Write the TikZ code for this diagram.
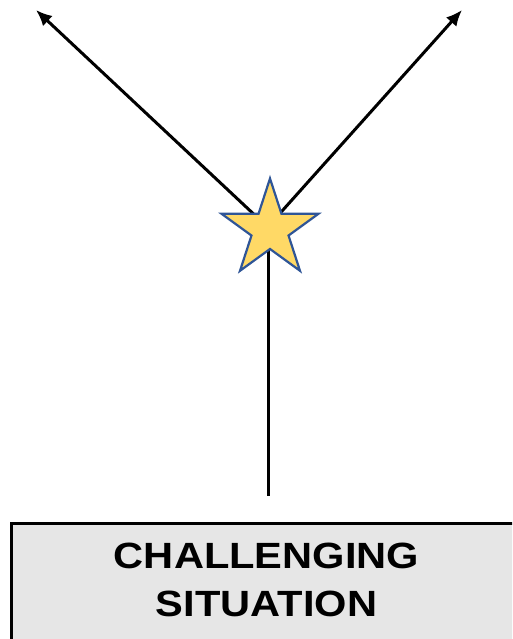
\documentclass[tikz,border=0pt]{standalone}
\usepackage{fontspec}
\setmainfont{Liberation Sans}
\usetikzlibrary{shapes.geometric,arrows.meta}
\definecolor{starfill}{HTML}{FFD966}
\definecolor{starline}{HTML}{2F5597}
\definecolor{boxfill}{HTML}{E6E6E6}
\tikzset{
  conn/.style={draw=black, line width=3pt},
  arrowconn/.style={conn, -{Latex[length=16pt,width=14pt]}},
  starshape/.style={star, star points=5, star point ratio=2.618, minimum size=102pt, inner sep=0pt,
    draw=starline, fill=starfill, line width=2.2pt},
  boxshape/.style={draw=black, fill=boxfill, line width=3pt, minimum width=515pt, minimum height=140pt, anchor=north west, inner sep=0pt},
  lbl/.style={anchor=base, inner sep=0pt, font=\fontsize{36.5}{40}\selectfont\bfseries}
}
\begin{document}
\begin{tikzpicture}[x=1pt,y=-1pt]
\useasboundingbox (0,0) rectangle (512,639);
\clip (0,0) rectangle (512,639);
\fill[white] (0,0) rectangle (512,639);
\coordinate (tl) at (36,10);
\coordinate (tr) at (462,10);
\coordinate (ls) at (260,220);
\coordinate (rs) at (274,220);
\coordinate (vs) at (268.5,235);
\coordinate (ve) at (268.5,496);
\draw[arrowconn] (ls) -- (tl);
\draw[arrowconn] (rs) -- (tr);
\draw[conn] (vs) -- (ve);
\node[starshape] (st) at (270,229.5) {};
\node[boxshape] (box) at (9.5,521.5) {};
\node[lbl] (t1) at (266.5,568) {\scalebox{1.14}[1]{CHALLENGING}};
\node[lbl] (t2) at (266.5,616.5) {\scalebox{1.14}[1]{SITUATION}};
\end{tikzpicture}
\end{document}
